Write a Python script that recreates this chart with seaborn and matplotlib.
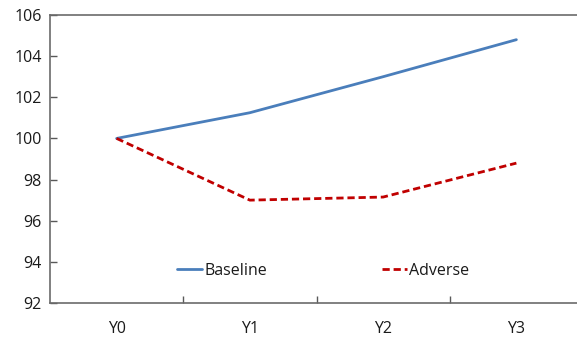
import matplotlib
matplotlib.use("Agg")
import matplotlib.pyplot as plt
import seaborn as sns
import pandas as pd

years = ["Y0", "Y1", "Y2", "Y3"]
baseline = [100.0, 101.25, 103.0, 104.8]
adverse = [100.0, 97.0, 97.15, 98.8]
y_ticks = [92, 94, 96, 98, 100, 102, 104, 106]

sns.set_theme(style="white")
plt.rcParams["font.family"] = ["Open Sans", "DejaVu Sans"]
plt.rcParams["font.size"] = 11.5

df = pd.DataFrame({
    "year": years * 2,
    "value": baseline + adverse,
    "scenario": ["Baseline"] * 4 + ["Adverse"] * 4,
})

fig = plt.figure(figsize=(5.77, 3.37), dpi=100)
ax = fig.add_axes([50 / 577, 1 - 303 / 337, 533 / 577, 288 / 337])

sns.lineplot(data=df[df.scenario == "Baseline"], x="year", y="value",
             color="#4A7EBB", lw=2.0, ax=ax, label="Baseline", sort=False)
sns.lineplot(data=df[df.scenario == "Adverse"], x="year", y="value",
             color="#C00000", lw=2.0, ax=ax, label="Adverse", sort=False,
             dashes=False, linestyle=(0, (2.6, 1.4)))

ax.set_xlim(-0.5, 3.5)
ax.set_ylim(92, 106)
ax.set_yticks(y_ticks)
ax.set_xticks(range(len(years)))
ax.set_xticklabels(years)
ax.set_xticks([0.5, 1.5, 2.5], minor=True)
ax.tick_params(axis="x", which="major", length=0, pad=13, labelsize=11.5,
               colors="#1a1a1a")
ax.tick_params(axis="x", which="minor", direction="in", length=5,
               width=1, color="#595959", bottom=True)
ax.tick_params(axis="y", direction="in", length=5, width=1,
               color="#595959", labelsize=11.5, pad=6, labelcolor="#1a1a1a",
               left=True)
ax.set_xlabel("")
ax.set_ylabel("")

for side in ["left", "bottom", "top"]:
    ax.spines[side].set_visible(True)
    ax.spines[side].set_color("#6b6b6b")
    ax.spines[side].set_linewidth(1.2)
ax.spines["right"].set_visible(False)

leg = ax.legend(loc="center", bbox_to_anchor=((323 - 50) / 533, (303 - 271) / 288),
                ncol=2, frameon=False, handlelength=1.55, handletextpad=0.15,
                columnspacing=7.2, fontsize=11.5)
for t in leg.get_texts():
    t.set_color("#1a1a1a")

fig.savefig("out.png", dpi=100)
